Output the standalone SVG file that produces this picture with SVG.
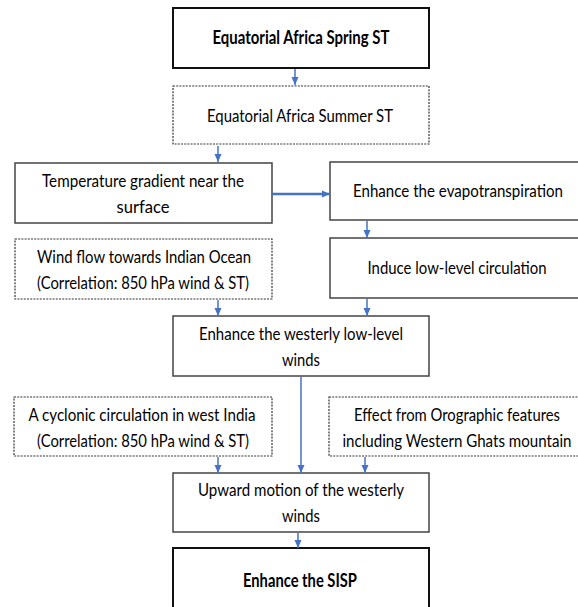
<svg xmlns="http://www.w3.org/2000/svg" width="578" height="607" viewBox="0 0 578 607">
<style>
  .bg{fill:#ffffff}
  .thick{fill:#ffffff;stroke:#111111;stroke-width:2}
  .solid{fill:#ffffff;stroke:#444444;stroke-width:1.5}
  .dash{fill:#ffffff;stroke:#333333;stroke-width:1.2;stroke-dasharray:2 1.2}
  text{font-family:Lato,"Liberation Sans",sans-serif;font-size:18px;fill:#000000;text-anchor:middle}
  .b{font-weight:bold}
  .conn{stroke:#4472C4;stroke-width:1.5;fill:none}
  .conn2{stroke:#4472C4;stroke-width:2.5;fill:none}
</style>
<defs>
  <marker id="ah" markerUnits="userSpaceOnUse" markerWidth="8" markerHeight="8" viewBox="0 0 8 8" refX="8" refY="4" orient="auto">
    <path d="M0,0.5 L8,4 L0,7.5 Z" fill="#4472C4"/>
  </marker>
</defs>
<rect class="bg" x="0" y="0" width="578" height="607"/>

<g id="n1">
  <rect class="thick" x="173" y="8" width="256" height="60"/>
  <text class="b" x="301" y="44" textLength="177" lengthAdjust="spacingAndGlyphs">Equatorial Africa Spring ST</text>
</g>
<g id="n2">
  <rect class="dash" x="173" y="86" width="256" height="58"/>
  <text x="300" y="122" textLength="186" lengthAdjust="spacingAndGlyphs">Equatorial Africa Summer ST</text>
</g>
<g id="n3">
  <rect class="solid" x="15" y="163" width="257" height="60"/>
  <text x="143" y="187" textLength="202" lengthAdjust="spacingAndGlyphs">Temperature gradient near the</text>
  <text x="143" y="213" textLength="53" lengthAdjust="spacingAndGlyphs">surface</text>
</g>
<g id="n4">
  <rect class="solid" x="330" y="162" width="260" height="58"/>
  <text x="458" y="197" textLength="210" lengthAdjust="spacingAndGlyphs">Enhance the evapotranspiration</text>
</g>
<g id="n5">
  <rect class="dash" x="15" y="239" width="257" height="60"/>
  <text x="144" y="263" textLength="214" lengthAdjust="spacingAndGlyphs">Wind flow towards Indian Ocean</text>
  <text x="143" y="289" textLength="212" lengthAdjust="spacingAndGlyphs">(Correlation: 850 hPa wind &amp; ST)</text>
</g>
<g id="n6">
  <rect class="solid" x="330" y="238" width="260" height="60"/>
  <text x="457" y="274" textLength="179" lengthAdjust="spacingAndGlyphs">Induce low-level circulation</text>
</g>
<g id="n7">
  <rect class="solid" x="173" y="316" width="256" height="60"/>
  <text x="301" y="340" textLength="204" lengthAdjust="spacingAndGlyphs">Enhance the westerly low-level</text>
  <text x="301" y="366" textLength="38" lengthAdjust="spacingAndGlyphs">winds</text>
</g>
<g id="n8">
  <rect class="dash" x="14" y="397" width="258" height="59"/>
  <text x="142" y="421" textLength="227" lengthAdjust="spacingAndGlyphs">A cyclonic circulation in west India</text>
  <text x="143" y="447" textLength="212" lengthAdjust="spacingAndGlyphs">(Correlation: 850 hPa wind &amp; ST)</text>
</g>
<g id="n9">
  <rect class="dash" x="329" y="397" width="260" height="59"/>
  <text x="457" y="421" textLength="206" lengthAdjust="spacingAndGlyphs">Effect from Orographic features</text>
  <text x="457" y="447" textLength="229" lengthAdjust="spacingAndGlyphs">including Western Ghats mountain</text>
</g>
<g id="n10">
  <rect class="solid" x="173" y="473" width="256" height="59"/>
  <text x="301" y="496" textLength="206" lengthAdjust="spacingAndGlyphs">Upward motion of the westerly</text>
  <text x="301" y="522" textLength="38" lengthAdjust="spacingAndGlyphs">winds</text>
</g>
<g id="n11">
  <rect class="thick" x="173" y="548" width="256" height="70"/>
  <text class="b" x="300" y="587" textLength="114" lengthAdjust="spacingAndGlyphs">Enhance the SISP</text>
</g>

<g id="connectors">
  <line class="conn" x1="295" y1="69" x2="295" y2="85" marker-end="url(#ah)"/>
  <line class="conn" x1="218" y1="146" x2="218" y2="162" marker-end="url(#ah)"/>
  <line class="conn2" x1="272" y1="194" x2="330" y2="194" marker-end="url(#ah)"/>
  <line class="conn" x1="367" y1="221" x2="367" y2="238" marker-end="url(#ah)"/>
  <line class="conn" x1="218" y1="300" x2="218" y2="316" marker-end="url(#ah)"/>
  <line class="conn" x1="367" y1="299" x2="367" y2="316" marker-end="url(#ah)"/>
  <line class="conn" x1="301" y1="377" x2="301" y2="473" marker-end="url(#ah)"/>
  <line class="conn" x1="218" y1="457" x2="218" y2="473" marker-end="url(#ah)"/>
  <line class="conn" x1="365" y1="457" x2="365" y2="473" marker-end="url(#ah)"/>
  <line class="conn" x1="298" y1="533" x2="298" y2="548" marker-end="url(#ah)"/>
</g>
</svg>
